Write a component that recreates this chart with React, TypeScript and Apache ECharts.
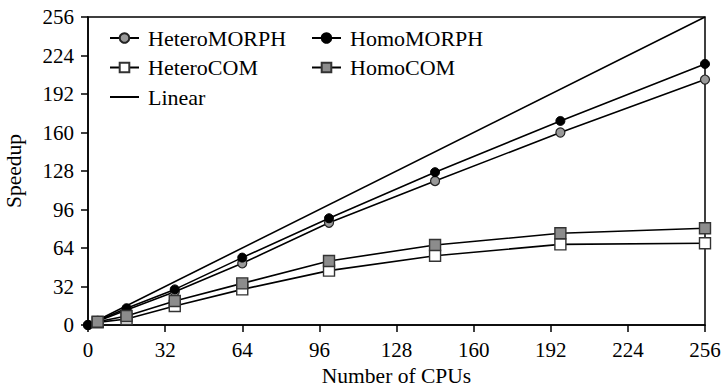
import React, { useEffect, useRef } from "react";
import * as echarts from "echarts";

const morphCpus = [0, 4, 16, 36, 64, 100, 144, 196, 256];
const comCpus = [4, 16, 36, 64, 100, 144, 196, 256];
const heteroMorph = [0, 3.2, 12.5, 27.7, 51.3, 85, 119.7, 160, 204];
const homoMorph = [0, 3.5, 14, 29.6, 56, 88.7, 127, 169.6, 217];
const heteroCom = [2.2, 5, 15.8, 29.6, 45.2, 57.6, 67, 68];
const homoCom = [2.7, 7.5, 20, 34.6, 53.2, 66.5, 76.2, 80.4];
const linearCpus = [0, 256];
const linearSpeedup = [0, 256];
const ticks = [0, 32, 64, 96, 128, 160, 192, 224, 256];

const FONT = "Liberation Serif";
const FS = 21;

function pairs(xs: number[], ys: number[]) {
  return xs.map((x, i) => [x, ys[i]]);
}

export default function App() {
  const ref = useRef<HTMLDivElement>(null);
  useEffect(() => {
    const chart = echarts.init(ref.current!, null, { renderer: "svg" });
    const lineStyle = { color: "#000", width: 1.6 };
    const axisCommon = {
      type: "value" as const,
      min: ticks[0],
      max: ticks[ticks.length - 1],
      interval: 32,
      axisLine: { show: true, lineStyle: { color: "#000", width: 1.5 } },
      axisTick: { show: true, inside: false, length: 7, lineStyle: { color: "#000", width: 1.5 } },
      splitLine: { show: false },
      nameTextStyle: { fontFamily: FONT, fontSize: 21.5, color: "#000", lineHeight: 22 },
    };
    const legendText = { fontFamily: FONT, fontSize: 22, color: "#000", lineHeight: 22, padding: [0, 0, 0, 4] };
    chart.setOption({
      animation: false,
      backgroundColor: "#fff",
      textStyle: { fontFamily: FONT },
      grid: {
        left: 88,
        right: 18,
        top: 17,
        bottom: 63,
        show: true,
        borderColor: "#000",
        borderWidth: 1.5,
        outerBoundsMode: "none",
        containLabel: false,
      },
      legend: [
        {
          orient: "vertical",
          left: 104,
          top: 22,
          itemWidth: 29,
          itemHeight: 12,
          itemGap: 7.5,
          data: ["HeteroMORPH", "HeteroCOM", { name: "Linear", itemStyle: { opacity: 0 } }],
          textStyle: legendText,
        },
        {
          orient: "vertical",
          left: 306,
          top: 22,
          itemWidth: 29,
          itemHeight: 12,
          itemGap: 7.5,
          data: ["HomoMORPH", "HomoCOM"],
          textStyle: legendText,
        },
      ],
      xAxis: {
        ...axisCommon,
        name: "Number of CPUs",
        nameLocation: "middle",
        nameGap: 38,
        axisLabel: { fontFamily: FONT, fontSize: FS, color: "#000", margin: 14 },
      },
      yAxis: {
        ...axisCommon,
        name: "Speedup",
        nameLocation: "middle",
        nameGap: 63,
        axisLabel: { fontFamily: FONT, fontSize: FS, color: "#000", margin: 14 },
      },
      series: [
        {
          name: "Linear",
          type: "line",
          data: pairs(linearCpus, linearSpeedup),
          symbol: "none",
          lineStyle,
          itemStyle: { color: "#000" },
          z: 1,
        },
        {
          name: "HeteroMORPH",
          type: "line",
          data: pairs(morphCpus, heteroMorph),
          symbol: "circle",
          symbolSize: 9,
          showAllSymbol: true,
          lineStyle,
          itemStyle: { color: "#999", borderColor: "#222", borderWidth: 1.2 },
          z: 2,
        },
        {
          name: "HomoMORPH",
          type: "line",
          data: pairs(morphCpus, homoMorph),
          symbol: "circle",
          symbolSize: 9,
          showAllSymbol: true,
          lineStyle,
          itemStyle: { color: "#000", borderColor: "#000", borderWidth: 1 },
          z: 3,
        },
        {
          name: "HeteroCOM",
          type: "line",
          data: pairs(comCpus, heteroCom),
          symbol: "rect",
          symbolSize: 11,
          showAllSymbol: true,
          lineStyle,
          itemStyle: { color: "#fff", borderColor: "#333", borderWidth: 1.4 },
          z: 4,
        },
        {
          name: "HomoCOM",
          type: "line",
          data: pairs(comCpus, homoCom),
          symbol: "rect",
          symbolSize: 11,
          showAllSymbol: true,
          lineStyle,
          itemStyle: { color: "#8c8c8c", borderColor: "#333", borderWidth: 1.4 },
          z: 5,
        },
      ],
    });
    return () => chart.dispose();
  }, []);
  return (
    <div
      ref={ref}
      style={{ position: "fixed", left: 0, top: 0, width: 723, height: 388, background: "#fff" }}
    />
  );
}
